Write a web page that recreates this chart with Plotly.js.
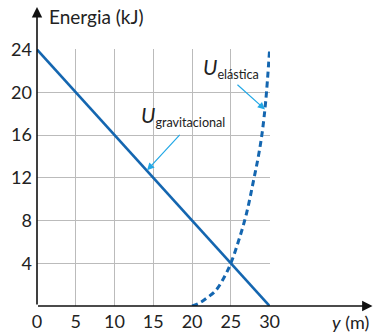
<!DOCTYPE html>
<html>
<head>
<meta charset="utf-8">
<script src="https://cdn.plot.ly/plotly-3.0.1.min.js"></script>
<style>html,body{margin:0;padding:0;background:#fff;}#chart{width:374px;height:336px;}</style>
</head>
<body>
<div id="chart"></div>
<script>
// Data
const gravX = [0, 30];
const gravY = [24, 0];
const elasX = [20, 21, 22, 23, 24, 25, 26, 27, 28, 28.5, 29, 29.5, 30];
const elasY = [0, 0.3, 0.8, 1.4, 2.5, 4.0, 6.1, 8.6, 12.0, 13.8, 16.0, 19.2, 24];
const xTicks = [0, 5, 10, 15, 20, 25, 30];
const yTicks = [4, 8, 12, 16, 20, 24];

const FONT = 'Lato, "Open Sans", sans-serif';
const BLUE = '#1466b0';
const LIGHT = '#22a8e6';

const traces = [
  {x: gravX, y: gravY, mode: 'lines', line: {color: BLUE, width: 2.6}, hoverinfo: 'skip'},
  {x: elasX, y: elasY, mode: 'lines', line: {color: BLUE, width: 3, dash: '6px,4px', shape: 'spline'}, hoverinfo: 'skip'}
];

const layout = {
  width: 374, height: 336,
  margin: {l: 37, r: 104, t: 49, b: 30},
  paper_bgcolor: '#fff', plot_bgcolor: '#fff',
  showlegend: false,
  font: {family: FONT, size: 18, color: '#222'},
  xaxis: {range: [0, 30.05], tickvals: xTicks, ticktext: xTicks.map(String), showgrid: true,
          gridcolor: '#bbbbbb', gridwidth: 1, zeroline: false, showline: false, ticks: '',
          ticklabelstandoff: 3,
          tickfont: {family: FONT, size: 18, color: '#222'}, fixedrange: true},
  yaxis: {range: [0, 24.05], tickvals: yTicks, ticktext: yTicks.map(String), showgrid: true,
          gridcolor: '#bbbbbb', gridwidth: 1, zeroline: false, showline: false, ticks: '',
          ticklabelstandoff: 4,
          tickfont: {family: FONT, size: 18, color: '#222'}, fixedrange: true},
  annotations: [
    // x axis arrow
    {xref: 'paper', yref: 'y', x: 1.44, y: 0, ax: -336, ay: 0, showarrow: true, arrowhead: 2,
     arrowsize: 1.3, arrowwidth: 1.6, arrowcolor: '#111', text: ''},
    // y axis arrow
    {xref: 'x', yref: 'paper', x: 0, y: 1.163, ax: 0, ay: 299, showarrow: true, arrowhead: 2,
     arrowsize: 1.3, arrowwidth: 1.6, arrowcolor: '#111', text: ''},
    // titles
    {xref: 'paper', yref: 'paper', x: 0.045, y: 1.125, xanchor: 'left', yanchor: 'middle', showarrow: false,
     text: 'Energia (kJ)', font: {family: FONT, size: 19, color: '#222'}},
    {xref: 'paper', yref: 'paper', x: 1.435, y: -0.063, xanchor: 'right', yanchor: 'middle', showarrow: false,
     text: '<i>y</i> (m)', font: {family: FONT, size: 18, color: '#222'}},
    // series labels
    {xref: 'x', yref: 'y', x: 13.1, y: 17.8, xanchor: 'left', yanchor: 'middle', showarrow: false,
     text: '<i><span style="font-size:21px">U</span></i><sub>gravitacional</sub>', font: {family: FONT, size: 18, color: '#222'}},
    {xref: 'x', yref: 'y', x: 21.1, y: 22.3, xanchor: 'left', yanchor: 'middle', showarrow: false,
     text: '<i><span style="font-size:21px">U</span></i><sub>elástica</sub>', font: {family: FONT, size: 18, color: '#222'}},
    // pointer arrows
    {xref: 'x', yref: 'y', x: 14.2, y: 12.7, ax: 34, ay: -37, showarrow: true, arrowhead: 2,
     arrowsize: 1.2, arrowwidth: 1.2, arrowcolor: LIGHT, text: ''},
    {xref: 'x', yref: 'y', x: 29.4, y: 18.4, ax: -29, ay: -26, showarrow: true, arrowhead: 2,
     arrowsize: 1.2, arrowwidth: 1.2, arrowcolor: LIGHT, text: ''}
  ]
};

Plotly.newPlot('chart', traces, layout, {staticPlot: true, displayModeBar: false});
</script>
</body>
</html>
